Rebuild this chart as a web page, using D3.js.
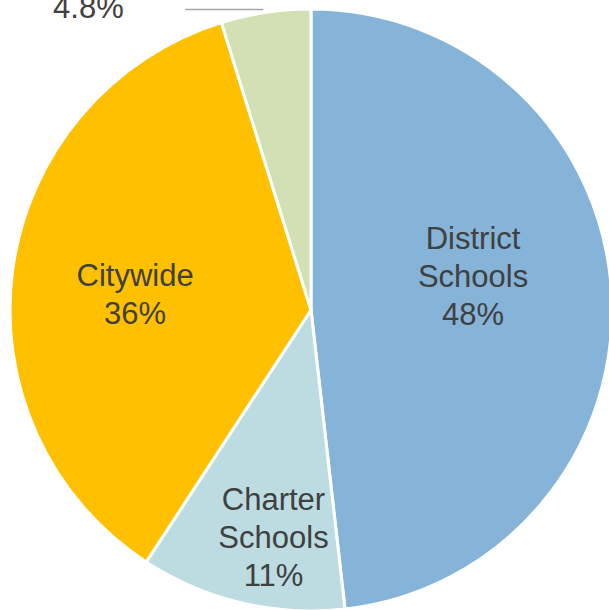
<!DOCTYPE html>
<html>
<head>
<meta charset="utf-8">
<script src="https://cdn.jsdelivr.net/npm/d3@7"></script>
<style>
  html, body { margin: 0; padding: 0; background: #fff; overflow: hidden; }
  text { font-family: "Liberation Sans", Arial, sans-serif; fill: #404040; }
</style>
</head>
<body>
<div id="chart"></div>
<script>
let svgWidth = 609;
let svgHeight = 610;

// data
let categories = ['District Schools', 'Charter Schools', 'Citywide', 'Other'];
let labelLines = [['District', 'Schools'], ['Charter', 'Schools'], ['Citywide'], []];
let shares = [48.1, 11.0, 35.9, 4.8];
let colors = ['#85B4D8', '#BDDCE2', '#FFC000', '#D2E0B3'];

// pie geometry
let cx = 311;
let cy = 310;
let radius = 301;
let fontSize = 31;
let lineHeight = 38;

// per-slice label placement (radius fraction + nudge), like Excel's best fit
let labelPlace = [
    { rf: 0.536, dx: 1, dy: -25 },
    { rf: 0.77, dx: 16, dy: 1 },
    { rf: 0.59, dx: 0, dy: 8 },
    null
];

function fmt(v) {
    return v >= 10 ? `${Math.round(v)}%` : `${v.toFixed(1)}%`;
}

let svg = d3.select('#chart')
    .append('svg')
    .attr('width', svgWidth)
    .attr('height', svgHeight);

let g = svg.append('g')
    .attr('transform', `translate(${cx}, ${cy})`);

let data = categories.map((c, i) => ({ name: c, value: shares[i], lines: labelLines[i], i: i }));

let pie = d3.pie()
    .sort(null)
    .value(d => d.value);

let arc = d3.arc()
    .innerRadius(0)
    .outerRadius(radius);

let arcs = pie(data);

g.selectAll('path.slice')
    .data(arcs)
    .enter()
    .append('path')
    .classed('slice', true)
    .attr('d', arc)
    .attr('fill', d => colors[d.data.i])
    .attr('stroke', '#fff')
    .attr('stroke-width', 3)
    .attr('stroke-linejoin', 'round');

// inside labels
arcs.forEach(function(d) {
    let p = labelPlace[d.data.i];
    if (!p) return;
    let mid = (d.startAngle + d.endAngle) / 2;
    let r = p.rf * radius;
    let x = r * Math.sin(mid) + p.dx;
    let y = -r * Math.cos(mid) + p.dy;
    let lines = d.data.lines.concat([fmt(d.data.value)]);
    let first = y - (lines.length - 1) * lineHeight / 2 + fontSize * 0.716 / 2;
    let t = g.append('text')
        .attr('text-anchor', 'middle')
        .attr('font-size', fontSize + 'px');
    lines.forEach(function(s, k) {
        t.append('tspan')
            .attr('x', x)
            .attr('y', first + k * lineHeight)
            .text(s);
    });
});

// outside label with leader line for the small slice
arcs.filter(d => !labelPlace[d.data.i]).forEach(function(d) {
    let mid = (d.startAngle + d.endAngle) / 2;
    let x0 = (radius + 2) * Math.sin(mid) - 2;
    let y0 = -(radius + 2) * Math.cos(mid) - 1;
    let x1 = x0 - 78;
    g.append('path')
        .attr('d', `M${x0},${y0}H${x1}`)
        .attr('stroke', '#A6A6A6')
        .attr('stroke-width', 1.5)
        .attr('fill', 'none');
    g.append('text')
        .attr('text-anchor', 'middle')
        .attr('font-size', fontSize + 'px')
        .attr('x', x1 - 97)
        .attr('y', y0 + 8.5)
        .text(fmt(d.data.value));
});
</script>
</body>
</html>
